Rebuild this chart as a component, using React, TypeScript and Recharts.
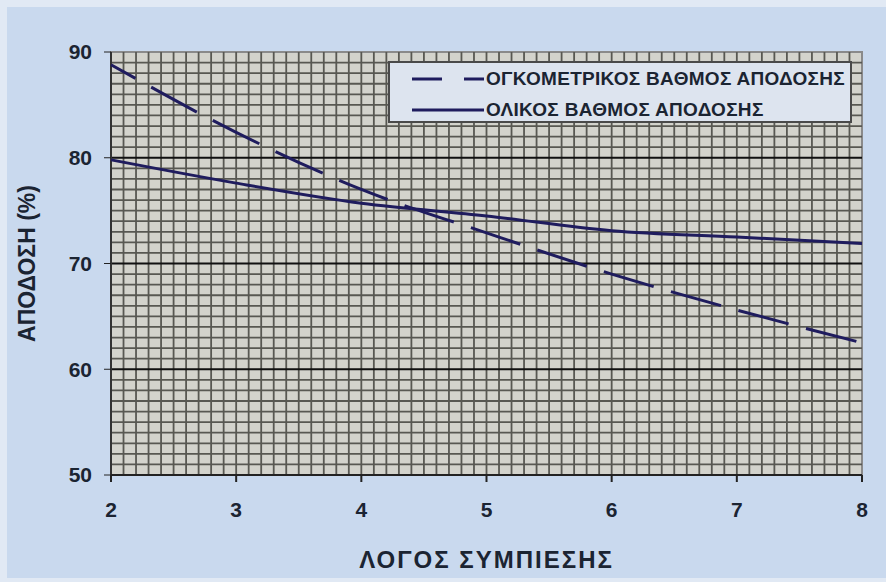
import React from 'react';
import { LineChart, Line, XAxis, YAxis, ReferenceLine, ReferenceArea, Legend } from 'recharts';

const ratio = [2, 3, 4, 5, 6, 7, 8];
const volumetricEff = [88.8, 82.4, 77.0, 72.9, 69.0, 65.6, 62.5];
const overallEff = [79.8, 77.6, 75.7, 74.5, 73.1, 72.5, 71.9];
const xTicks = [2, 3, 4, 5, 6, 7, 8];
const yTicks = [50, 60, 70, 80, 90];
const majorY = [60, 70, 80];

const seriesNames = ['ΟΓΚΟΜΕΤΡΙΚΟΣ ΒΑΘΜΟΣ ΑΠΟΔΟΣΗΣ', 'ΟΛΙΚΟΣ ΒΑΘΜΟΣ ΑΠΟΔΟΣΗΣ'];

const data = ratio.map((x, i) => ({ x, vol: volumetricEff[i], tot: overallEff[i] }));

// fine graph-paper grid
const minorX = Array.from({ length: 59 }, (_, i) => +(2.1 + i * 0.1).toFixed(1));
const minorY = Array.from({ length: 39 }, (_, i) => 51 + i).filter(v => v % 10 !== 0);

const FONT = '"Liberation Sans", Arial, sans-serif';
const INK = '#1b2432';
const LINE = '#1f1c5e';

function LegendBox() {
  const row = (dash: string | undefined, label: string) => (
    <div style={{ display: 'flex', alignItems: 'center', height: 31 }}>
      <svg width={76} height={10} style={{ marginLeft: 20 }}>
        <line x1={2} y1={5} x2={74} y2={5} stroke={LINE} strokeWidth={3} strokeDasharray={dash} />
      </svg>
      <span style={{ fontFamily: FONT, fontWeight: 700, fontSize: 19, color: INK, letterSpacing: 0.3 }}>{label}</span>
    </div>
  );
  return (
    <div style={{ background: '#dde4ef', border: '2px solid #4a4a4a', boxSizing: 'border-box', width: 464, height: 62 }}>
      {row('30 22', seriesNames[0])}
      {row(undefined, seriesNames[1])}
    </div>
  );
}

export default function App() {
  return (
    <div style={{ position: 'absolute', left: 0, top: 0, width: 886, height: 582, background: '#e1e9f4' }}>
      <div style={{ position: 'absolute', left: 7, top: 7, right: 0, bottom: 4, background: '#c9d9ee' }} />
      <LineChart width={886} height={582} data={data} margin={{ top: 52, right: 24, bottom: 0, left: 0 }} style={{ position: 'absolute', left: 0, top: 0 }}>
        <XAxis
          type="number"
          dataKey="x"
          domain={[2, 8]}
          ticks={xTicks}
          height={107}
          tickSize={7}
          tickMargin={20}
          stroke="#222"
          strokeWidth={2}
          tick={{ fill: INK, fontSize: 21, fontWeight: 700, fontFamily: FONT }}
          label={{ value: 'ΛΟΓΟΣ ΣΥΜΠΙΕΣΗΣ', position: 'insideBottom', offset: 14, fill: INK, fontSize: 24, fontWeight: 700, fontFamily: FONT, style: { letterSpacing: 2 } }}
        />
        <YAxis
          type="number"
          domain={[50, 90]}
          ticks={yTicks}
          width={111}
          tickSize={7}
          tickMargin={12}
          axisLine={false}
          stroke="#222"
          tick={{ fill: INK, fontSize: 21, fontWeight: 700, fontFamily: FONT }}
          label={{ value: 'ΑΠΟΔΟΣΗ (%)', angle: -90, position: 'insideLeft', offset: 27, fill: INK, fontSize: 23, fontWeight: 700, fontFamily: FONT, style: { textAnchor: 'middle' } }}
        />
        <ReferenceArea x1={2} x2={8} y1={50} y2={90} fill="#d3d3cc" fillOpacity={1} stroke="#8a8a8a" strokeWidth={2} />
        {minorX.map(v => (
          <ReferenceLine key={'vx' + v} x={v} stroke="#585852" strokeWidth={1.8} />
        ))}
        {minorY.map(v => (
          <ReferenceLine key={'hy' + v} y={v} stroke="#585852" strokeWidth={1.8} />
        ))}
        {majorY.map(v => (
          <ReferenceLine key={'my' + v} y={v} stroke="#111" strokeWidth={2} />
        ))}
        <ReferenceLine x={2} stroke="#333" strokeWidth={2} />
        <Legend
          layout="vertical"
          align="center"
          verticalAlign="middle"
          content={() => <LegendBox />}
          wrapperStyle={{ position: 'absolute', left: 388, top: 61, width: 464, height: 62 }}
        />
        <Line type="monotone" dataKey="vol" name={seriesNames[0]} stroke={LINE} strokeWidth={3} strokeDasharray="52 18" strokeDashoffset={24} dot={false} isAnimationActive={false} />
        <Line type="monotone" dataKey="tot" name={seriesNames[1]} stroke={LINE} strokeWidth={3} dot={false} isAnimationActive={false} />
      </LineChart>
    </div>
  );
}
